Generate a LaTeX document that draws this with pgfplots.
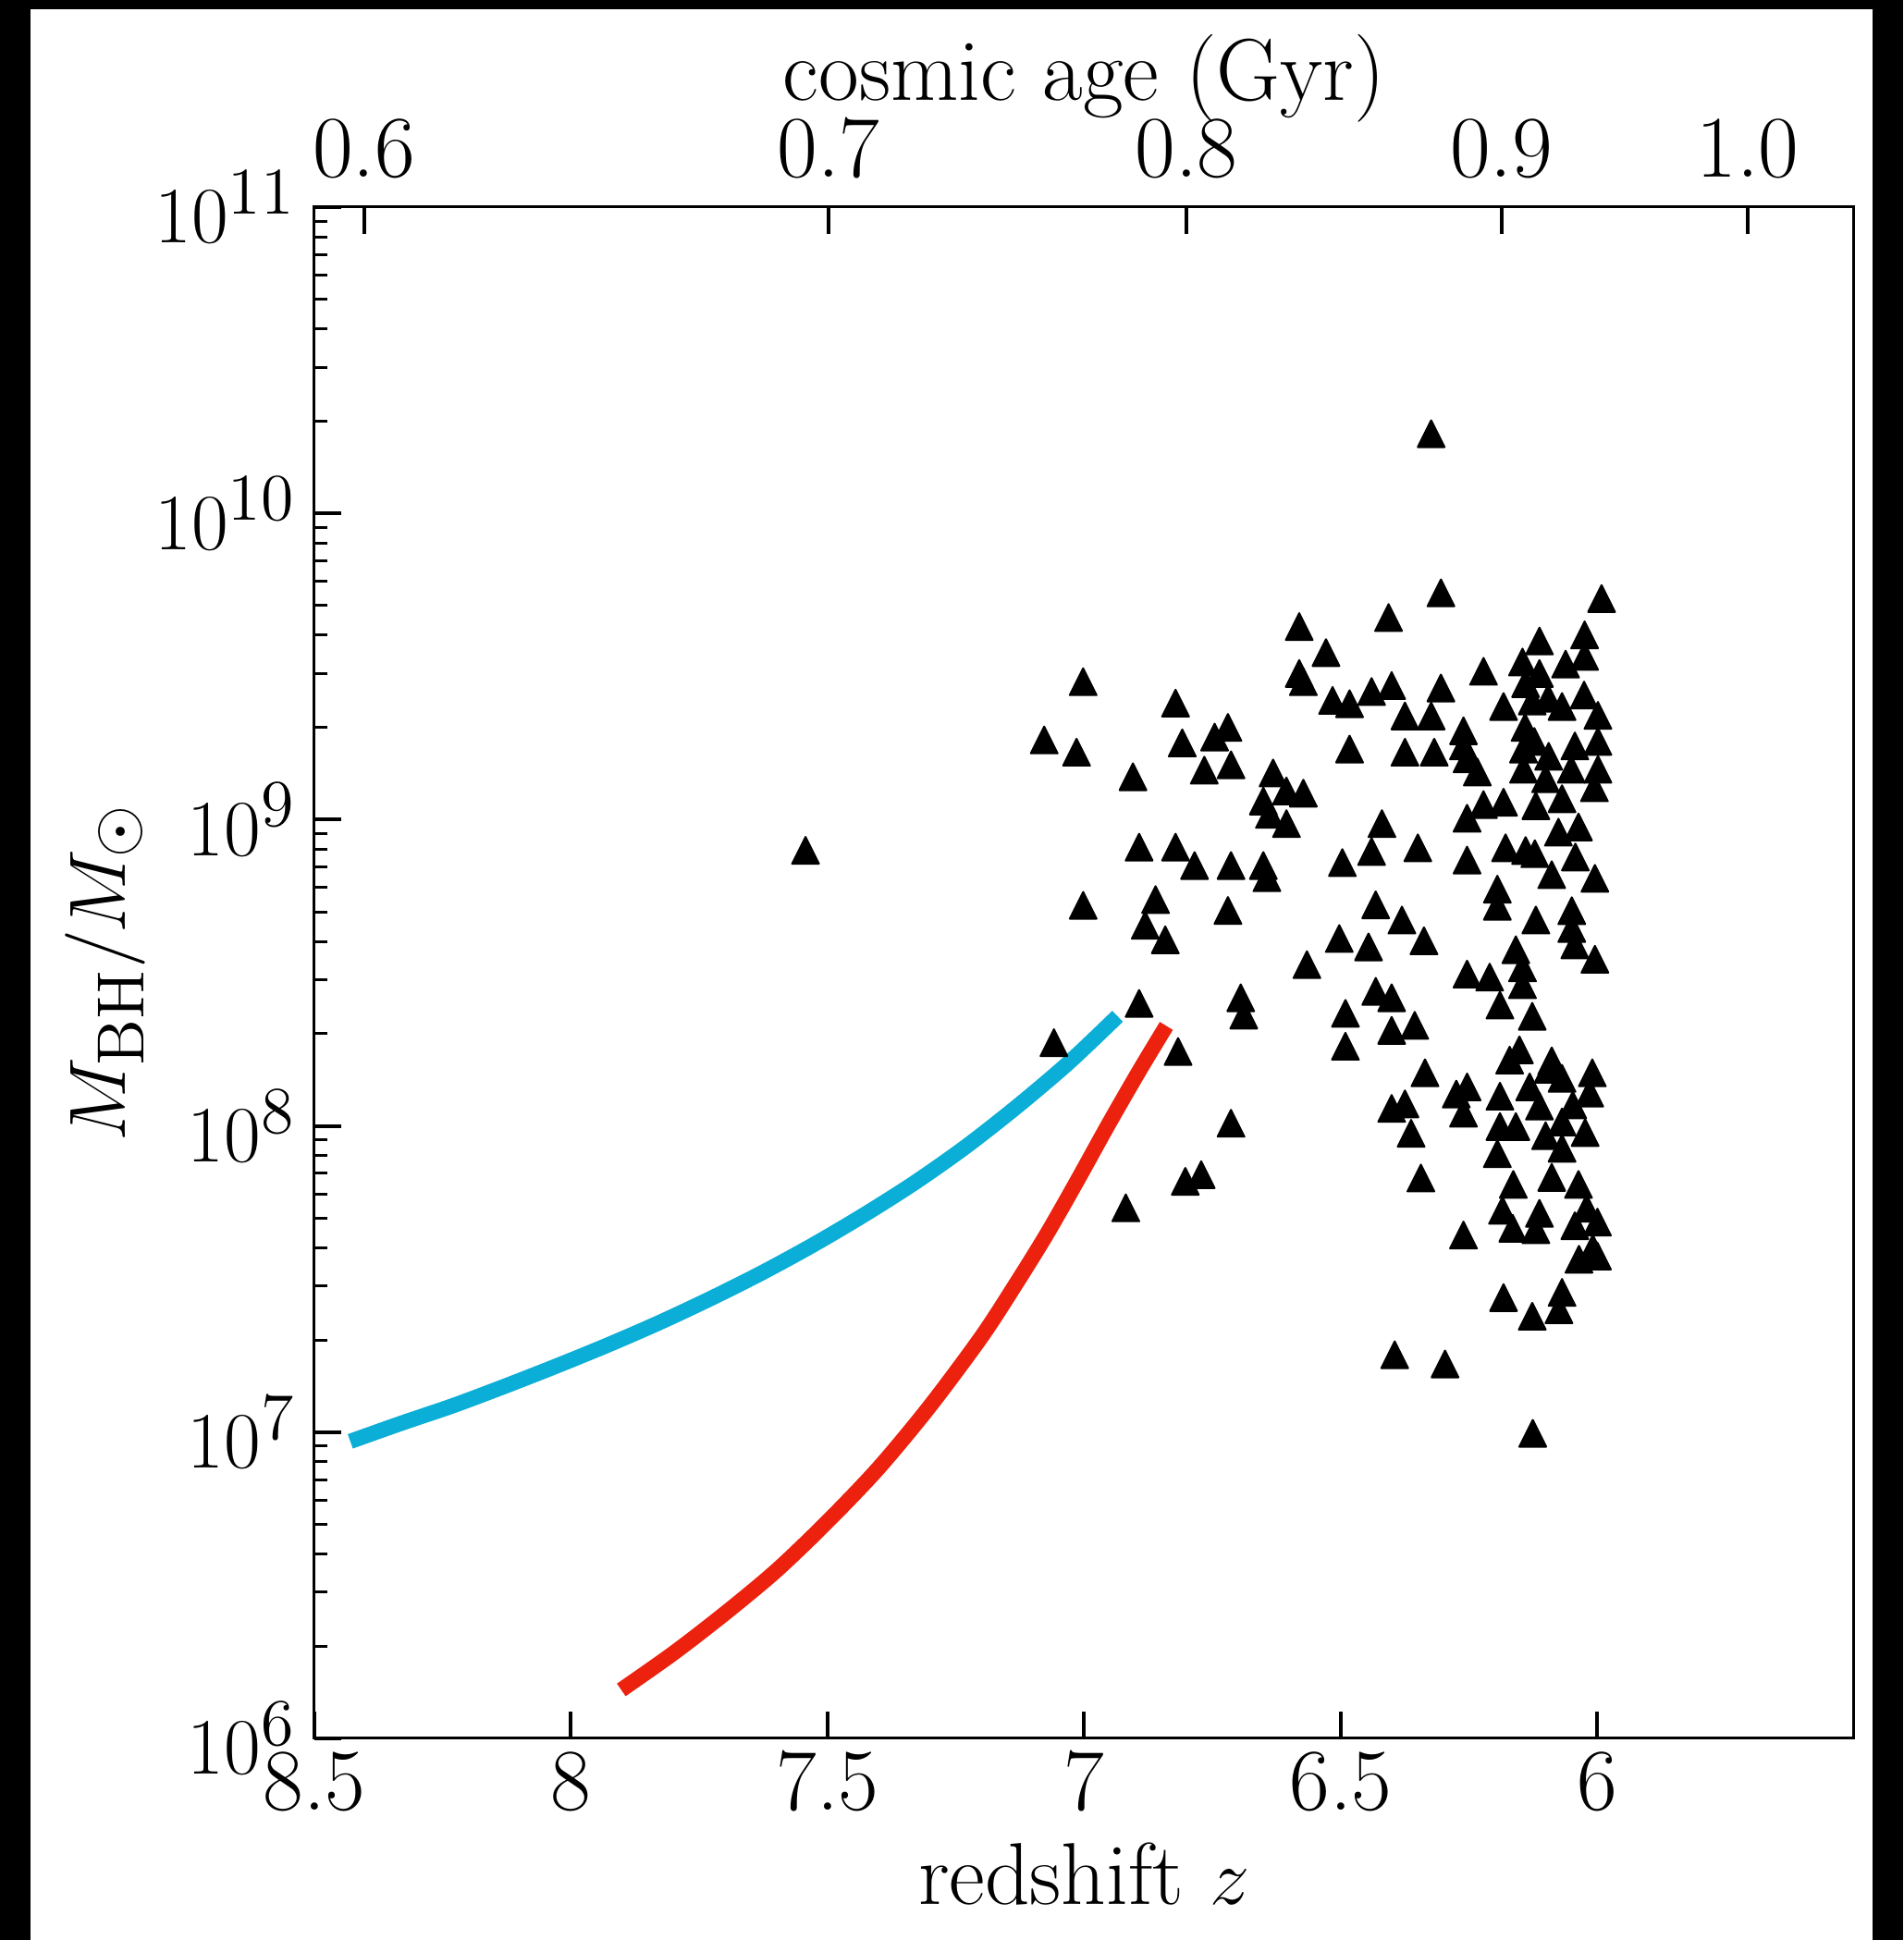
\documentclass[border=0pt]{standalone}
\usepackage{pgfplots}
\pgfplotsset{compat=1.18}
\definecolor{cyanc}{RGB}{10,174,214}
\definecolor{redc}{RGB}{236,34,14}
\pgfdeclareplotmark{mtri}{%
  \pgfpathmoveto{\pgfqpoint{0pt}{\pgfplotmarksize}}%
  \pgfpathlineto{\pgfqpoint{-\pgfplotmarksize}{-\pgfplotmarksize}}%
  \pgfpathlineto{\pgfqpoint{\pgfplotmarksize}{-\pgfplotmarksize}}%
  \pgfpathclose
  \pgfusepathqfillstroke}
\pgfplotstableread{
z M
7.543 7.94e8
7.002 2.82e9
6.822 2.40e9
7.078 1.82e9
7.015 1.66e9
6.809 1.78e9
6.746 1.86e9
6.720 2.00e9
6.766 1.45e9
6.714 1.51e9
6.905 1.38e9
6.651 1.15e9
6.639 1.04e9
6.893 8.13e8
6.822 8.13e8
6.785 7.08e8
6.714 7.08e8
6.651 7.08e8
6.644 6.46e8
6.632 1.42e9
6.324 1.82e10
6.305 5.50e9
6.407 4.57e9
6.581 4.27e9
6.529 3.51e9
6.581 3.00e9
6.573 2.82e9
6.516 2.45e9
6.483 2.39e9
6.440 2.62e9
6.401 2.74e9
6.305 2.69e9
6.375 2.18e9
6.324 2.18e9
6.483 1.70e9
6.375 1.66e9
6.318 1.66e9
6.606 1.24e9
6.573 1.22e9
6.606 9.70e8
6.420 9.70e8
6.440 7.87e8
6.350 8.09e8
6.497 7.24e8
6.432 5.27e8
6.381 4.70e8
5.992 5.27e9
6.025 4.01e9
6.025 3.41e9
6.113 3.83e9
6.062 3.22e9
6.146 3.27e9
6.113 3.00e9
6.222 3.05e9
6.140 2.78e9
6.096 2.49e9
6.127 2.44e9
6.069 2.34e9
6.026 2.55e9
5.999 2.19e9
6.183 2.34e9
6.141 2.00e9
6.123 1.80e9
6.144 1.70e9
6.095 1.61e9
6.144 1.46e9
6.101 1.36e9
6.044 1.74e9
5.999 1.80e9
5.999 1.46e9
6.051 1.46e9
6.261 1.95e9
6.261 1.74e9
6.254 1.58e9
6.234 1.43e9
6.006 1.27e9
6.222 1.12e9
6.183 1.14e9
6.254 1.01e9
6.120 1.11e9
6.069 1.17e9
6.076 9.10e8
6.037 9.46e8
6.179 8.09e8
6.140 7.93e8
6.122 7.74e8
6.043 7.55e8
6.254 7.38e8
6.089 6.61e8
6.005 6.43e8
6.195 5.93e8
6.195 5.21e8
6.120 4.70e8
6.050 5.04e8
6.050 4.41e8
6.044 3.90e8
6.005 3.50e8
6.159 3.76e8
6.146 3.28e8
6.146 2.89e8
6.254 3.13e8
6.210 3.06e8
6.190 2.48e8
6.127 2.28e8
6.152 1.77e8
6.171 1.64e8
6.089 1.63e8
6.096 1.53e8
6.069 1.43e8
6.010 1.49e8
6.015 1.28e8
6.275 1.27e8
6.254 1.34e8
6.261 1.10e8
6.190 1.25e8
6.132 1.34e8
6.113 1.16e8
6.048 1.17e8
6.069 1.03e8
6.024 9.51e7
6.190 9.95e7
6.159 9.95e7
6.101 9.29e7
6.069 8.45e7
6.195 8.11e7
6.164 6.44e7
6.089 6.79e7
6.037 6.44e7
6.185 5.30e7
6.165 4.63e7
6.113 5.18e7
6.120 4.58e7
6.021 5.38e7
6.000 4.85e7
6.044 4.72e7
6.009 3.98e7
6.036 3.67e7
6.000 3.76e7
6.261 4.40e7
6.183 2.75e7
6.127 2.39e7
6.069 2.86e7
6.075 2.51e7
6.297 1.67e7
6.126 9.91e6
6.395 1.79e7
6.503 4.09e8
6.446 3.84e8
6.338 4.02e8
6.566 3.36e8
6.432 2.75e8
6.401 2.62e8
6.491 2.33e8
6.401 2.05e8
6.356 2.13e8
6.491 1.82e8
6.336 1.49e8
6.401 1.14e8
6.375 1.18e8
6.363 9.46e7
6.344 6.76e7
7.002 5.25e8
6.861 5.48e8
6.881 4.52e8
6.842 4.05e8
6.720 5.05e8
6.893 2.51e8
7.059 1.87e8
6.817 1.75e8
6.695 2.62e8
6.689 2.30e8
6.714 1.02e8
6.803 6.59e7
6.772 6.93e7
6.919 5.40e7
}\quasars
\begin{document}
\begin{tikzpicture}
\fill[black] (-68pt,-43.6pt) rectangle (343.6pt,376pt);
\fill[white] (-61.4pt,-43.6pt) rectangle (337pt,374pt);
\useasboundingbox (-68pt,-43.6pt) rectangle (343.6pt,376pt);
\begin{axis}[
  at={(0,0)}, anchor=south west,
  scale only axis, width=333pt, height=331.2pt,
  xmin=5.5, xmax=8.5, x dir=reverse,
  ymode=log, ymin=1e6, ymax=1e11,
  xtick={8.5,8,7.5,7,6.5,6}, xticklabels={8.5,8,7.5,7,6.5,6},
  ytick={1e6,1e7,1e8,1e9,1e10,1e11},
  minor ytick={2e6,3e6,4e6,5e6,6e6,7e6,8e6,9e6,2e7,3e7,4e7,5e7,6e7,7e7,8e7,9e7,2e8,3e8,4e8,5e8,6e8,7e8,8e8,9e8,2e9,3e9,4e9,5e9,6e9,7e9,8e9,9e9,2e10,3e10,4e10,5e10,6e10,7e10,8e10,9e10},
  xtick pos=bottom, ytick pos=left,
  tick align=inside,
  major tick length=5.8pt, minor tick length=2.8pt,
  major tick style={black, line width=0.8pt},
  minor tick style={black, line width=0.6pt},
  axis line style={line width=0.6pt},
  tick label style={font=\fontsize{19}{23}\selectfont},
  label style={font=\fontsize{19}{23}\selectfont},
  xticklabel style={anchor=base, inner sep=0pt, yshift=-15.6pt},
  yticklabel style={anchor=east, inner xsep=0pt, xshift=-3.8pt},
  xlabel={redshift $z$},
  xlabel style={at={(axis description cs:0.5,0)}, anchor=base, yshift=-36pt},
  ylabel={$M_{\mathrm{BH}}/M_\odot$},
  ylabel style={at={(axis description cs:-0.1357,0.5)}, anchor=center},
]
\addplot[cyanc, line width=3.3pt, smooth] coordinates {
(8.43,9.33e6) (8.33,1.07e7) (8.23,1.22e7) (8.13,1.41e7) (8.03,1.64e7)
(7.93,1.92e7) (7.83,2.27e7) (7.73,2.72e7) (7.63,3.30e7) (7.53,4.07e7)
(7.43,5.11e7) (7.33,6.53e7) (7.23,8.57e7) (7.13,1.16e8) (7.03,1.61e8)
(6.935,2.28e8)};
\addplot[redc, line width=3.3pt, smooth] coordinates {
(7.902,1.44e6) (7.80,1.90e6) (7.70,2.56e6) (7.60,3.53e6) (7.50,5.11e6)
(7.40,7.66e6) (7.30,1.22e7) (7.20,2.05e7) (7.134,3.03e7) (7.073,4.43e7)
(7.013,6.65e7) (6.953,1.01e8) (6.894,1.50e8) (6.840,2.12e8)};
\addplot[only marks, mark=mtri, mark size=2.9pt,
  mark options={fill=black, draw=black, line width=0.4pt, line join=round}]
  table[x=z, y=M] {\quasars};
\end{axis}
\begin{axis}[
  at={(0,0)}, anchor=south west,
  scale only axis, width=333pt, height=331.2pt,
  xmin=5.5, xmax=8.5, x dir=reverse,
  ymin=0, ymax=1,
  axis x line*=top, axis y line=none,
  tick align=inside,
  xtick={8.403,7.498,6.801,6.187,5.707},
  xticklabels={0.6,0.7,0.8,0.9,1.0},
  major tick length=5.8pt,
  major tick style={black, line width=0.8pt},
  axis line style={line width=0.6pt},
  tick label style={font=\fontsize{19}{23}\selectfont},
  label style={font=\fontsize{19}{23}\selectfont},
  xticklabel style={anchor=base, inner sep=0pt, yshift=6.4pt},
  xlabel={cosmic age (Gyr)},
  xlabel style={at={(axis description cs:0.5,1)}, anchor=base, inner sep=0pt, yshift=23pt},
]
\end{axis}
\end{tikzpicture}
\end{document}
